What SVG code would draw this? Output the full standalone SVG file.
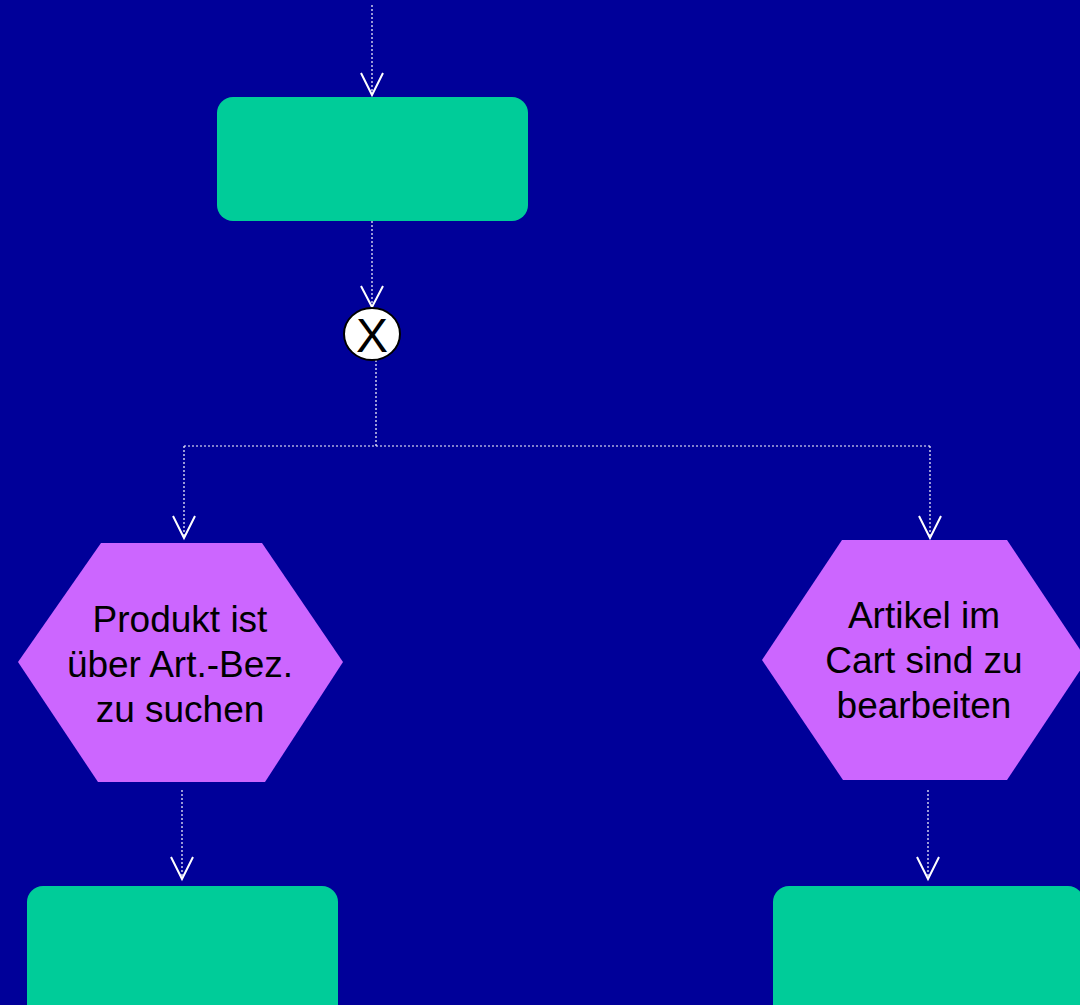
<svg xmlns="http://www.w3.org/2000/svg" width="1080" height="1005" viewBox="0 0 1080 1005">
<style>
.bg{fill:#000099}
.func{fill:#00CC99}
.event{fill:#CC66FF}
.conn{fill:none;stroke:#FFFFFF;stroke-width:1.2;stroke-dasharray:2,2}
.head{fill:none;stroke:#FFFFFF;stroke-width:2}
.lbl{font-family:"Liberation Sans",Arial,sans-serif;font-size:37px;fill:#000000;text-anchor:middle}
</style>
<rect class="bg" x="0" y="0" width="1080" height="1005"/>
<g id="connectors">
<path class="conn" d="M372,5 V95"/>
<path class="head" d="M361,73 L372,95 L383,73"/>
<path class="conn" d="M372,221 V307"/>
<path class="head" d="M361,286 L372,307 L383,286"/>
<path class="conn" d="M376,360 V446 M184,446 H930 M184,446 V537 M930,446 V537"/>
<path class="head" d="M173,516 L184,538 L195,516"/>
<path class="head" d="M919,516 L930,538 L941,516"/>
<path class="conn" d="M182,790 V878"/>
<path class="head" d="M171,857 L182,879 L193,857"/>
<path class="conn" d="M928,790 V878"/>
<path class="head" d="M917,857 L928,879 L939,857"/>
</g>
<g id="func-top">
<rect class="func" x="217" y="97" width="311" height="124" rx="16" ry="16"/>
</g>
<g id="xor">
<ellipse cx="372" cy="334" rx="28" ry="26" fill="#FFFFFF" stroke="#000000" stroke-width="2"/>
<text x="372" y="352" font-family="Liberation Sans, Arial, sans-serif" font-size="48" text-anchor="middle" fill="#000000">X</text>
</g>
<g id="event-left">
<polygon class="event" points="101,543 262,543 343,662 265,782 98,782 18,662"/>
<text class="lbl" x="180" y="632">Produkt ist</text>
<text class="lbl" x="180" y="677">über Art.-Bez.</text>
<text class="lbl" x="180" y="722">zu suchen</text>
</g>
<g id="event-right">
<polygon class="event" points="842,540 1007,540 1087,660 1007,780 843,780 762,660"/>
<text class="lbl" x="924" y="628">Artikel im</text>
<text class="lbl" x="924" y="673">Cart sind zu</text>
<text class="lbl" x="924" y="718">bearbeiten</text>
</g>
<g id="func-left">
<rect class="func" x="27" y="886" width="311" height="140" rx="16" ry="16"/>
</g>
<g id="func-right">
<rect class="func" x="773" y="886" width="311" height="140" rx="16" ry="16"/>
</g>
</svg>
